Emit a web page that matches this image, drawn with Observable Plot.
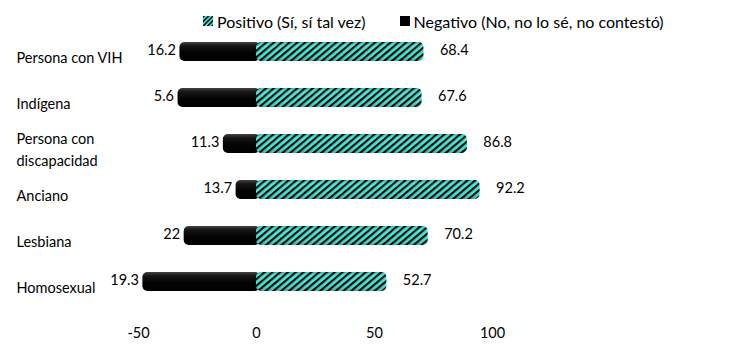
<!DOCTYPE html>
<html><head><meta charset="utf-8">
<script src="https://cdn.jsdelivr.net/npm/d3@7"></script>
<script src="https://cdn.jsdelivr.net/npm/@observablehq/plot@0.6"></script>
<style>
body{margin:0;background:#fff;font-family:Lato,"Open Sans",sans-serif;}
#legend{height:36px;display:flex;align-items:center;padding-left:203px;font-size:16px;color:#000;box-sizing:border-box;padding-top:6px;}
.item{display:flex;align-items:center;margin-right:34px;}
.item svg{margin-right:4px;}
</style></head><body>
<div id="legend"></div>
<div id="chart"></div>
<script>
const categories = ["Persona con VIH","Indígena","Persona con\ndiscapacidad","Anciano","Lesbiana","Homosexual"];
const positivo = [68.4,67.6,86.8,92.2,70.2,52.7];
const negativoLabel = [16.2,5.6,11.3,13.7,22,19.3];
const negativoBar = [31.6,32.4,13.2,7.8,29.8,47.3];
const xTicks = [-50,0,50,100];
const seriesNames = ["Positivo (Sí, sí tal vez)","Negativo (No, no lo sé, no contestó)"];
const teal = "#40E6D4";

const data = categories.map((c,i)=>({cat:c,pos:positivo[i],negLabel:negativoLabel[i],negBar:negativoBar[i]}));

// legend
const legend = d3.select("#legend");
seriesNames.forEach((name,i)=>{
  const it = legend.append("div").attr("class","item");
  const s = it.append("svg").attr("width",10).attr("height",10);
  if(i===0){
    const p = s.append("defs").append("pattern").attr("id","lhatch").attr("patternUnits","userSpaceOnUse")
      .attr("width",3.2).attr("height",3.2).attr("patternTransform","rotate(45)");
    p.append("rect").attr("width",3.2).attr("height",3.2).attr("fill",teal);
    p.append("rect").attr("width",1.5).attr("height",3.2).attr("fill","#000");
    s.append("rect").attr("width",10).attr("height",10).attr("fill","url(#lhatch)");
  } else {
    s.append("rect").attr("width",10).attr("height",10).attr("fill","#000");
  }
  it.append("span").text(name);
});

const plot = Plot.plot({
  width:732, height:315,
  marginLeft:138, marginRight:240, marginTop:5.5, marginBottom:59.5,
  style:{fontFamily:"Lato, 'Open Sans', sans-serif", fontSize:"14.5px", color:"#000", background:"#fff"},
  x:{domain:[-50,100]},
  y:{domain:categories, paddingInner:0.59, paddingOuter:0, axis:null},
  marks:[
    Plot.barX(data,{y:"cat", x1:d=>-d.negBar, x2:0, fill:"url(#blackGrad)", rx:5, insetLeft:-2, insetRight:-4}),
    Plot.barX(data,{y:"cat", x1:0, x2:"pos", fill:"url(#hatch)", rx:5, insetRight:-6}),
    Plot.barX(data,{y:"cat", x1:0, x2:"pos", fill:"url(#shade)", rx:5, insetRight:-6}),
    Plot.text(data,{y:"cat", x:d=>-d.negBar, text:d=>String(d.negLabel), textAnchor:"end", dx:-6, dy:-2}),
    Plot.text(data,{y:"cat", x:"pos", text:d=>String(d.pos), textAnchor:"start", dx:22, dy:-2}),
    Plot.text(data,{y:"cat", text:"cat", frameAnchor:"left", textAnchor:"start", dx:-122, dy:4, lineHeight:1.5}),
    Plot.axisX({ticks:xTicks, tickSize:0, tickPadding:36, tickFormat:d=>String(d), label:null})
  ]
});

const defs = d3.select(plot).insert("defs",":first-child");
const bg = defs.append("linearGradient").attr("id","blackGrad").attr("x1",0).attr("y1",0).attr("x2",0).attr("y2",1);
[[0,"#444"],[0.2,"#161616"],[0.55,"#040404"],[1,"#000"]].forEach(([o,c])=>bg.append("stop").attr("offset",o).attr("stop-color",c));
const hp = defs.append("pattern").attr("id","hatch").attr("patternUnits","userSpaceOnUse")
  .attr("width",5).attr("height",5).attr("patternTransform","rotate(50)");
hp.append("rect").attr("width",5).attr("height",5).attr("fill",teal);
hp.append("rect").attr("width",2.2).attr("height",5).attr("fill","#000");
const sg = defs.append("linearGradient").attr("id","shade").attr("x1",0).attr("y1",0).attr("x2",0).attr("y2",1);
[[0,"#000",0.15],[0.2,"#fff",0.12],[0.6,"#fff",0],[1,"#000",0.2]].forEach(([o,c,a])=>sg.append("stop").attr("offset",o).attr("stop-color",c).attr("stop-opacity",a));

document.getElementById("chart").appendChild(plot);
</script>
</body></html>
